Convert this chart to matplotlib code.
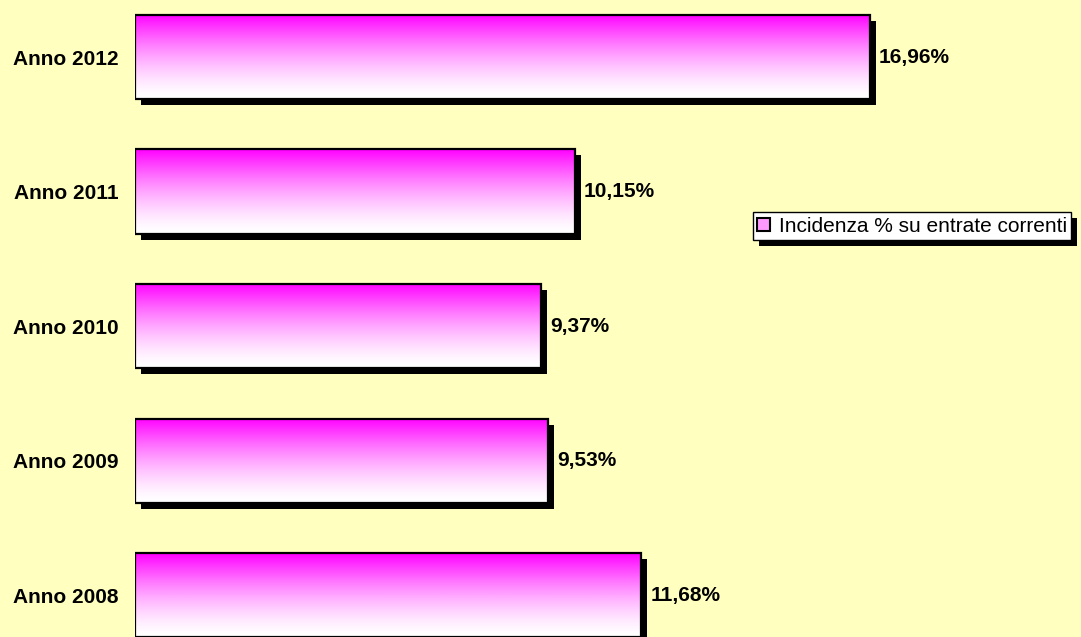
import numpy as np
import matplotlib
matplotlib.use('Agg')
import matplotlib.pyplot as plt
import matplotlib.transforms as mtransforms
import matplotlib.patheffects as pe
from matplotlib.colors import LinearSegmentedColormap
from matplotlib.patches import Patch

plt.rcParams['font.family'] = ['Liberation Sans', 'DejaVu Sans']

# Data
years = ['Anno 2008', 'Anno 2009', 'Anno 2010', 'Anno 2011', 'Anno 2012']
values = [11.68, 9.53, 9.37, 10.15, 16.96]
labels = ['11,68%', '9,53%', '9,37%', '10,15%', '16,96%']
series_name = 'Incidenza % su entrate correnti'

bg = '#FFFFC0'
grad = LinearSegmentedColormap.from_list('mw', ['#FFFFFF', '#FF00FF'])

fig = plt.figure(figsize=(10.81, 6.37), dpi=100, facecolor=bg)
ax = fig.add_axes([135 / 1081, 0, 1 - 135 / 1081, 1])
ax.set_facecolor(bg)

pos = np.arange(len(years))
h = 0.625

# shadow bars, shifted a few pixels right/down
shadow_tr = mtransforms.offset_copy(ax.transData, fig=fig, x=6, y=-6, units='dots')
ax.barh(pos, values, height=h, color='black', transform=shadow_tr, zorder=1)

# gradient fill, magenta on top fading to white
g = (np.linspace(0, 1, 256) ** 1.5).reshape(-1, 1)
bars = ax.barh(pos, values, height=h, facecolor='none', edgecolor='black',
               linewidth=1.6, zorder=3)
for b in bars:
    x0, y0, w, hh = b.get_x(), b.get_y(), b.get_width(), b.get_height()
    ax.imshow(g, cmap=grad, aspect='auto', origin='lower',
              extent=[x0, x0 + w, y0, y0 + hh], zorder=2)

for p, v, t in zip(pos, values, labels):
    ax.annotate(t, (v, p), xytext=(9, 0), textcoords='offset pixels',
                ha='left', va='center', fontsize=15, fontweight='bold')

ax.set_xlim(0, 21.83)
ax.set_ylim(-0.312, 4.424)
ax.set_yticks(pos)
ax.set_yticklabels(years, fontsize=15, fontweight='bold')
ax.tick_params(axis='y', length=0, pad=12)
ax.set_xticks([])
for s in ax.spines.values():
    s.set_visible(False)

handle = Patch(facecolor='#FF99FF', edgecolor='black', linewidth=1.5)
leg = fig.legend([handle], [series_name], loc='center left',
                 bbox_to_anchor=(753 / 1081, 1 - 226 / 637), fontsize=15,
                 frameon=True, fancybox=False, shadow=False, framealpha=1,
                 handlelength=0.6, handleheight=0.6, handletextpad=0.45,
                 borderpad=0.2, borderaxespad=0)
fr = leg.get_frame()
fr.set_edgecolor('black')
fr.set_linewidth(1)
fr.set_facecolor('white')
fr.set_path_effects([pe.SimplePatchShadow(offset=(4.3, -4.3), shadow_rgbFace='black', alpha=1),
                     pe.Normal()])

fig.savefig('out.png', dpi=100, facecolor=bg)
